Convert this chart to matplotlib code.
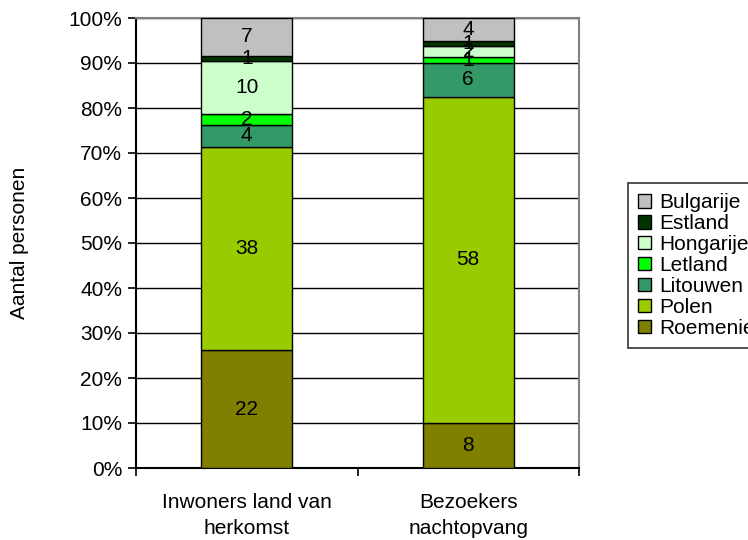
import matplotlib.pyplot as plt
import numpy as np

plt.rcParams['font.family'] = ['Liberation Sans', 'DejaVu Sans']

# data
groepen = ["Inwoners land van\nherkomst", "Bezoekers\nnachtopvang"]
landen = ["Roemenie", "Polen", "Litouwen", "Letland", "Hongarije", "Estland", "Bulgarije"]
roemenie = [22, 8]
polen = [38, 58]
litouwen = [4, 6]
letland = [2, 1]
hongarije = [10, 2]
estland = [1, 1]
bulgarije = [7, 4]
kleuren = ["#808000", "#99cc00", "#339966", "#00ff00", "#ccffcc", "#003300", "#c0c0c0"]

waarden = np.array([roemenie, polen, litouwen, letland, hongarije, estland, bulgarije], dtype=float)
totaal = waarden.sum(axis=0)
pct = waarden / totaal * 100

fs = 15
fig = plt.figure(figsize=(7.48, 5.40), dpi=100)
ax = fig.add_axes([136/748, 1 - 468/540, 443/748, 450/540])

x = np.arange(len(groepen))
onder = np.zeros(len(groepen))
balken = []
for i, land in enumerate(landen):
    b = ax.bar(x, pct[i], 0.41, bottom=onder, color=kleuren[i], edgecolor="black",
               linewidth=1, label=land, zorder=3)
    balken.append(b)
    for j in range(len(groepen)):
        ax.text(x[j], onder[j] + pct[i][j] / 2, "%d" % waarden[i][j], ha="center",
                va="center", fontsize=fs, zorder=4)
    onder += pct[i]

ax.set_xlim(-0.5, 1.5)
ax.set_ylim(0, 100)
ax.set_yticks(np.arange(0, 101, 10))
ax.set_yticklabels(["%d%%" % v for v in range(0, 101, 10)], fontsize=fs)
ax.set_xticks([-0.5, 0.5, 1.5], minor=False)
ax.set_xticklabels(["", "", ""])
ax.set_xticks(x, minor=True)
ax.set_xticklabels(groepen, minor=True, fontsize=fs, linespacing=1.5)
ax.tick_params(axis="x", which="minor", length=0, pad=18)
ax.tick_params(axis="x", which="major", length=6, direction="out", width=1.2)
ax.tick_params(axis="y", length=6, direction="out", width=1.2, pad=4)
ax.grid(axis="y", color="black", linewidth=1, zorder=0)
ax.set_ylabel("Aantal personen", fontsize=fs, labelpad=28)

for kant in ["top", "right"]:
    ax.spines[kant].set_color("#808080")
    ax.spines[kant].set_linewidth(1.5)
for kant in ["left", "bottom"]:
    ax.spines[kant].set_linewidth(1.5)

handles = balken[::-1]
labels = landen[::-1]
leg = ax.legend(handles, labels, loc="upper left", bbox_to_anchor=(628/748, 1 - 183/540),
                bbox_transform=fig.transFigure, frameon=True, fancybox=False,
                edgecolor="black", fontsize=fs, handlelength=0.6, handleheight=0.6,
                handletextpad=0.4, labelspacing=0.09, borderpad=0.5, borderaxespad=0)
leg.get_frame().set_linewidth(1.2)

plt.savefig("out.png", dpi=100)
